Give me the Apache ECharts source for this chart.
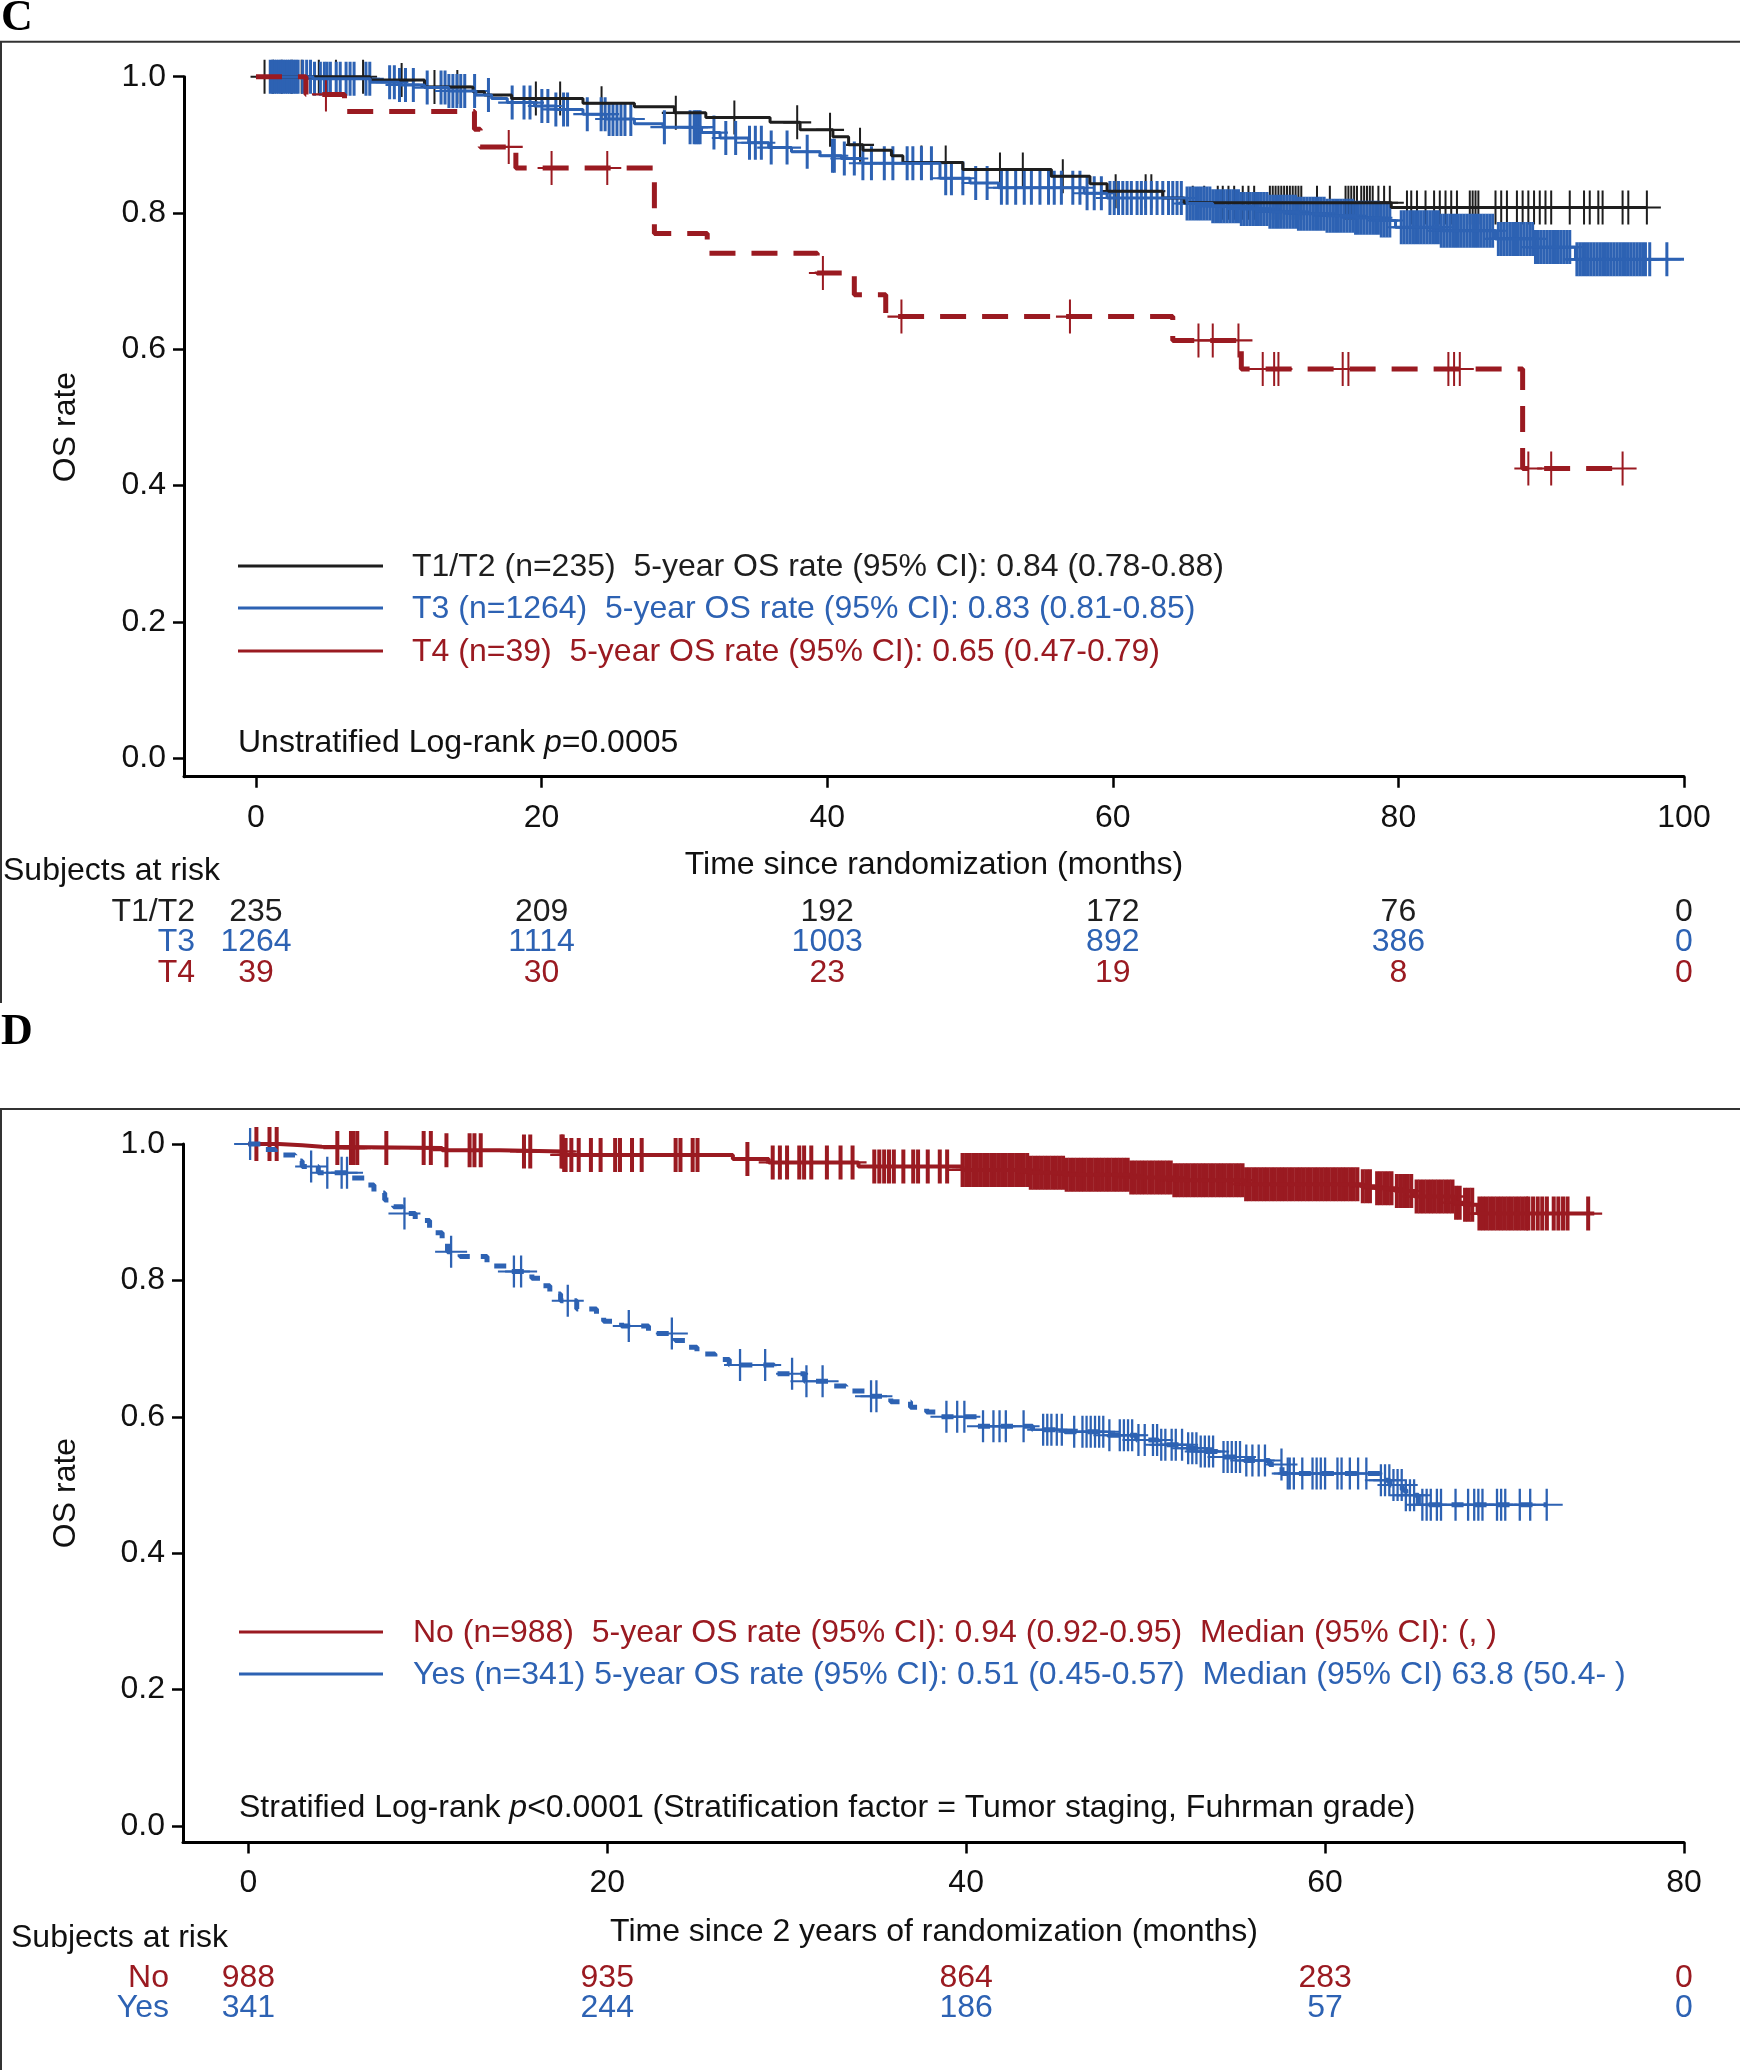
<!DOCTYPE html>
<html><head><meta charset="utf-8">
<script src="https://cdn.jsdelivr.net/npm/echarts@6/dist/echarts.min.js"></script>
<style>html,body{margin:0;padding:0;background:#fff}#c{width:1740px;height:2070px}</style>
</head><body><div id="c"></div>
<script>
// ---------------- Panel C data (months, survival) ----------------
const cBlackT = [0, 8.0, 11.8, 15.2, 16.0, 17.9, 22.9, 26.5, 29.3, 31.5, 36.0, 38.1, 40.4, 41.5, 42.5, 44.5, 45.3, 49.5, 55.7, 58.4, 59.6, 63.5, 65.0, 79.5, 97.4];
const cBlackS = [1.0, 0.995, 0.985, 0.978, 0.973, 0.968, 0.961, 0.956, 0.947, 0.940, 0.933, 0.922, 0.912, 0.900, 0.892, 0.884, 0.874, 0.864, 0.854, 0.843, 0.832, 0.822, 0.815, 0.808, 0.808];
const cBlackCens = [0.6, 1.2, 1.8, 2.5, 3.2, 4.4, 5.6, 7.5, 10.2, 12.5, 14.1, 19.6, 21.3, 24.2, 29.4, 33.5, 37.9, 40.2, 42.3, 46.6, 48.3, 52.1, 53.7, 56.5, 60.2, 62.3, 62.7,
  65.6, 66.4, 67.35, 67.7, 68.1, 68.5, 69.1, 69.5, 69.9, 71.0, 71.2, 71.4, 71.6, 71.8, 72.0, 72.2, 72.4, 72.6, 72.8, 73.0, 73.2, 74.3, 75.2,
  76.3, 76.5, 76.7, 76.9, 77.1, 77.4, 77.6, 77.8, 78.0, 78.2, 78.6, 79.0, 79.4, 80.6, 80.9, 81.3, 81.9, 82.5, 82.9, 83.3, 83.7, 84.1,
  85.0, 85.2, 85.4, 85.6, 86.8, 87.2, 87.6, 88.3, 88.7, 89.1, 89.5, 89.9, 90.3, 90.7, 92.0, 93.0, 93.4, 94.0, 94.3, 95.7, 96.1, 97.4];

const cBlueT = [0, 4.0, 8.0, 10.0, 11.8, 13.5, 15.4, 16.5, 17.6, 19.5, 21.0, 22.9, 24.5, 26.5, 28.5, 31.2, 32.5, 34.5, 35.9, 37.5, 39.5, 41.0, 42.5, 47.9, 50.0, 52.0, 58.0, 59.6, 65.2, 67.0, 69.0, 71.0, 73.0, 75.0, 77.0, 78.8, 79.8, 83.0, 86.8, 89.5, 92.4, 100];
const cBlueS = [1.0, 0.997, 0.992, 0.988, 0.984, 0.979, 0.973, 0.968, 0.962, 0.957, 0.952, 0.945, 0.938, 0.931, 0.926, 0.918, 0.910, 0.903, 0.896, 0.890, 0.884, 0.880, 0.873, 0.851, 0.844, 0.837, 0.829, 0.822, 0.814, 0.810, 0.806, 0.802, 0.799, 0.796, 0.793, 0.789, 0.779, 0.774, 0.762, 0.750, 0.732, 0.732];
const cBlueCens = [1.0, 1.15, 1.3, 1.45, 1.6, 1.75, 1.9, 2.05, 2.2, 2.35, 2.5, 2.65, 2.8, 2.95, 3.27, 3.55, 3.82, 4.1, 4.51, 4.79, 4.98, 5.21, 5.62, 5.9, 6.31, 6.59, 6.87, 7.7, 7.97,
  9.36, 9.69, 10.05, 10.47, 11.02, 11.99, 12.96, 13.24, 13.51, 13.79, 14.07, 14.34, 14.62, 15.31, 16.28, 17.94, 18.77, 19.19, 20.02, 20.44, 21.0, 21.54, 21.82,
  23.2, 24.17, 24.45, 24.73, 25.0, 25.28, 25.56, 25.84, 26.25, 28.6, 30.4, 30.68, 30.82, 30.96, 31.1, 32.07, 32.9, 33.59, 34.56, 34.97, 35.39, 36.08, 37.19, 38.6,
  40.37, 40.5, 41.2, 41.9, 42.5, 43.1, 44.0, 44.6, 45.6, 46.0, 46.6, 47.3, 48.3, 48.7, 49.5, 50.4, 51.2, 52.2, 52.6, 53.2, 53.8, 54.3, 54.9, 55.5, 55.9, 56.4, 57.2, 57.7, 58.2, 58.7, 59.2, 59.8,
  60.1, 60.4, 60.7, 61.0, 61.3, 61.7, 62.0, 62.3, 62.7, 63.1, 63.5, 63.9, 64.2, 64.5, 64.8,
  65.2, 65.4, 65.6, 65.8, 66.0, 66.2, 66.4, 66.6, 66.8, 67.0, 67.2, 67.4, 67.6, 67.8, 68.0, 68.2, 68.4, 68.6, 68.8, 69.0, 69.2, 69.4, 69.6, 69.8,
  70.0, 70.2, 70.4, 70.6, 70.8, 71.0, 71.2, 71.4, 71.6, 71.8, 72.0, 72.2, 72.4, 72.6, 72.8, 73.0, 73.2, 73.4, 73.6, 73.8, 74.0, 74.2, 74.4, 74.6, 74.8,
  75.0, 75.2, 75.4, 75.6, 75.8, 76.0, 76.2, 76.4, 76.6, 76.8, 77.0, 77.2, 77.4, 77.6, 77.8, 78.0, 78.2, 78.4, 78.6, 78.8, 79.0, 79.2, 79.4,
  80.2, 80.4, 80.6, 80.8, 81.0, 81.2, 81.4, 81.6, 81.8, 82.0, 82.2, 82.4, 82.6, 82.8, 83.0, 83.2, 83.4, 83.6, 83.8, 84.0, 84.2, 84.4, 84.6, 84.8,
  85.0, 85.2, 85.4, 85.6, 85.8, 86.0, 86.2, 86.4, 86.6, 87.0, 87.2, 87.4, 87.6, 87.8, 88.0, 88.2, 88.4, 88.6, 88.8, 89.0, 89.2, 89.4, 89.6, 89.8,
  90.0, 90.2, 90.4, 90.6, 90.8, 91.0, 91.2, 91.4, 91.6, 91.8, 92.0, 92.5, 92.7, 92.9, 93.1, 93.3, 93.5, 93.7, 93.9, 94.1, 94.3, 94.5, 94.7, 94.9,
  95.1, 95.3, 95.5, 95.7, 95.9, 96.1, 96.3, 96.5, 96.7, 96.9, 97.1, 97.3, 97.6, 98.8];

const cRedT = [0, 3.5, 6.2, 15.3, 15.7, 18.2, 27.9, 31.6, 39.3, 41.9, 44.1, 64.2, 69.0, 88.7, 95.7];
const cRedS = [1.0, 0.974, 0.949, 0.923, 0.897, 0.866, 0.770, 0.741, 0.712, 0.680, 0.648, 0.613, 0.571, 0.425, 0.425];
const cRedCens = [4.9, 17.7, 20.7, 24.6, 39.7, 45.2, 57.0, 66.0, 67.0, 68.8, 70.5, 71.3, 71.6, 76.1, 76.5, 83.5, 83.9, 84.3, 89.1, 90.7, 95.7];

// ---------------- Panel D data ----------------
const dRedT = [0, 1.7, 3.0, 4.1, 10.8, 14.0, 17.6, 27.0, 29.0, 34.0, 39.8, 43.5, 45.5, 49.2, 51.6, 55.5, 62.0, 62.8, 63.9, 65.0, 67.2, 67.7, 68.5, 75.0];
const dRedS = [1.0, 0.998, 0.996, 0.994, 0.991, 0.989, 0.984, 0.978, 0.973, 0.967, 0.962, 0.958, 0.955, 0.951, 0.947, 0.941, 0.938, 0.935, 0.931, 0.923, 0.914, 0.911, 0.898, 0.898];
const dRedCens = [0.45, 1.18, 1.58, 4.96, 5.72, 5.85, 6.07, 7.69, 9.77, 10.17, 11.04, 12.33, 12.6, 12.95, 15.36, 15.71, 17.45, 17.52, 17.6, 17.68, 18.0, 18.41,
  19.09, 19.63, 20.44, 20.71, 21.38, 21.92, 23.81, 24.08, 24.76, 25.03, 27.81, 29.22, 29.62, 30.02, 30.7, 30.97, 31.37, 32.24, 33.0, 33.67,
  34.88, 35.16, 35.43, 35.7, 35.97, 36.5, 37.05, 37.32, 37.86, 38.53, 38.94,
  39.8, 40.0, 40.2, 40.4, 40.6, 40.8, 41.0, 41.2, 41.4, 41.6, 41.8, 42.0, 42.2, 42.4, 42.6, 42.8, 43.0, 43.2, 43.4, 43.6, 43.8, 44.0, 44.2, 44.4, 44.6, 44.8,
  45.0, 45.2, 45.4, 45.6, 45.8, 46.0, 46.2, 46.4, 46.6, 46.8, 47.0, 47.2, 47.4, 47.6, 47.8, 48.0, 48.2, 48.4, 48.6, 48.8, 49.0, 49.2, 49.4, 49.6, 49.8,
  50.0, 50.2, 50.4, 50.6, 50.8, 51.0, 51.2, 51.4, 51.6, 51.8, 52.0, 52.2, 52.4, 52.6, 52.8, 53.0, 53.2, 53.4, 53.6, 53.8, 54.0, 54.2, 54.4, 54.6, 54.8,
  55.0, 55.2, 55.4, 55.6, 55.8, 56.0, 56.2, 56.4, 56.6, 56.8, 57.0, 57.2, 57.4, 57.6, 57.8, 58.0, 58.2, 58.4, 58.6, 58.8, 59.0, 59.2, 59.4, 59.6, 59.8,
  60.0, 60.2, 60.4, 60.6, 60.8, 61.0, 61.2, 61.4, 61.6, 61.8, 62.1, 62.3, 62.5, 62.9, 63.1, 63.3, 63.5, 63.7, 64.0, 64.2, 64.4, 64.6, 64.8,
  65.1, 65.3, 65.5, 65.7, 65.9, 66.1, 66.3, 66.5, 66.7, 66.9, 67.1, 67.3, 67.5, 67.8, 68.0, 68.2, 68.6, 68.8,
  69.0, 69.2, 69.4, 69.6, 69.8, 70.0, 70.2, 70.4, 70.6, 70.8, 71.0, 71.2, 71.33, 71.59, 71.85, 72.1, 72.36, 72.74, 73.0, 73.26, 73.51, 74.66];

const dBlueT = [0, 0.8, 1.5, 2.6, 3.0, 3.9, 5.7, 6.5, 7.0, 7.6, 8.1, 8.6, 9.3, 10.1, 10.8, 11.1, 11.8, 13.3, 14.4, 15.8, 16.3, 16.8, 17.4, 18.3, 19.4, 19.8, 20.8, 22.3, 23.8, 24.4, 25.0, 26.0, 26.8, 29.3, 31.0, 32.6, 33.3, 34.4, 35.8, 36.9, 37.8, 38.4, 40.6, 43.7, 45.5, 47.9, 49.5, 50.7, 52.1, 53.0, 54.0, 55.5, 56.9, 57.6, 63.1, 63.6, 64.3, 64.5, 65.2, 72.35];
const dBlueS = [1.0, 0.992, 0.984, 0.975, 0.967, 0.958, 0.950, 0.940, 0.928, 0.918, 0.908, 0.898, 0.888, 0.870, 0.855, 0.842, 0.835, 0.821, 0.813, 0.803, 0.792, 0.780, 0.770, 0.758, 0.748, 0.740, 0.733, 0.722, 0.712, 0.702, 0.692, 0.684, 0.676, 0.663, 0.652, 0.645, 0.638, 0.630, 0.622, 0.614, 0.607, 0.600, 0.586, 0.581, 0.578, 0.573, 0.566, 0.559, 0.554, 0.549, 0.541, 0.536, 0.530, 0.517, 0.507, 0.500, 0.493, 0.485, 0.471, 0.471];
const dBlueCens = [0.1, 3.5, 4.4, 5.2, 5.5, 8.7, 11.3, 14.8, 15.2, 17.8, 21.2, 23.6, 27.4, 28.8, 30.3, 31.1, 32.0, 34.7, 35.0, 38.9, 39.5, 39.9,
  40.94, 41.52, 41.86, 42.21, 43.2, 44.29, 44.52, 44.75, 45.05, 45.33, 46.02, 46.48, 46.71, 46.94, 47.18, 47.41, 47.64, 47.98, 48.56, 48.79, 49.02, 49.25,
  49.6, 49.95, 50.41, 50.64, 50.87, 51.1, 51.45, 51.68, 52.03, 52.37, 52.6, 52.83, 53.07, 53.3, 53.53, 53.76, 54.34, 54.57, 54.8, 55.03, 55.26, 55.61,
  55.95, 56.3, 56.65, 57.57, 57.92, 58.03, 58.26, 58.73, 59.3, 59.53, 59.76, 60.0, 60.69, 60.92, 61.38, 61.84, 62.3, 63.11, 63.34, 63.58, 63.81,
  64.04, 64.27, 64.5, 64.73, 64.96, 65.42, 65.66, 65.89, 66.23, 66.46, 67.27, 67.97, 68.31, 68.54, 68.77, 69.58, 69.81, 70.04, 70.85, 71.43, 72.35];

// ---------------- Axis ticks & risk tables ----------------
const cXTicks = [0, 20, 40, 60, 80, 100];
const dXTicks = [0, 20, 40, 60, 80];
const yTicks = [0, 0.2, 0.4, 0.6, 0.8, 1.0];
const cRiskGroups = ['T1/T2', 'T3', 'T4'];
const cRiskT12 = [235, 209, 192, 172, 76, 0];
const cRiskT3 = [1264, 1114, 1003, 892, 386, 0];
const cRiskT4 = [39, 30, 23, 19, 8, 0];
const dRiskGroups = ['No', 'Yes'];
const dRiskNo = [988, 935, 864, 283, 0];
const dRiskYes = [341, 244, 186, 57, 0];

// ---------------- Styles ----------------
const FONT = "'Liberation Sans', Arial, sans-serif";
const BLACK = '#1e1e1e', BLUE = '#2d62b3', RED = '#9a1a21';
const CROSS2 = 'path://M13,0h2v15h13v2h-13v15h-2v-15h-13v-2h13z';
const CROSS3 = 'path://M12.5,0h3v15h12.5v2h-12.5v15h-3v-15h-12.5v-2h12.5z';
const CROSS4 = 'path://M12,0h4v15h12v2h-12v15h-4v-15h-12v-2h12z';

function survAt(T, S, t) { let v = S[0]; for (let i = 0; i < T.length; i++) { if (T[i] <= t) v = S[i]; } return v; }
function lineSeries(ai, T, S, color, width, type) {
  return { type: 'line', xAxisIndex: ai, yAxisIndex: ai, data: T.map((t, i) => [t, S[i]]), step: 'end',
    symbol: 'none', showSymbol: false, clip: false, silent: true, animation: false,
    lineStyle: { color: color, width: width, type: type || 'solid', cap: 'butt' }, emphasis: { disabled: true } };
}
function censorSeries(ai, T, S, C, color, sym, size) {
  return { type: 'scatter', xAxisIndex: ai, yAxisIndex: ai, data: C.map(t => [t, survAt(T, S, t)]),
    symbol: sym, symbolSize: size, clip: false, silent: true, animation: false,
    itemStyle: { color: color, opacity: 1 }, emphasis: { disabled: true } };
}
function xAx(gi, min, max, ticks, margin) {
  return { gridIndex: gi, type: 'value', min: min, max: max,
    axisLine: { show: true, onZero: false, lineStyle: { color: '#000', width: 3 } },
    axisTick: { show: true, customValues: ticks, length: 11, lineStyle: { color: '#000', width: 2.5 } },
    axisLabel: { show: true, customValues: ticks, margin: margin, fontSize: 32, fontFamily: FONT, color: '#111', formatter: v => String(v) },
    splitLine: { show: false } };
}
function yAx(gi, min) {
  return { gridIndex: gi, type: 'value', min: min, max: 1.0,
    axisLine: { show: true, onZero: false, lineStyle: { color: '#000', width: 3 } },
    axisTick: { show: true, customValues: yTicks, length: 11, lineStyle: { color: '#000', width: 2.5 } },
    axisLabel: { show: true, customValues: yTicks, margin: 18, fontSize: 32, fontFamily: FONT, color: '#111', formatter: v => v.toFixed(1) },
    splitLine: { show: false } };
}

const chart = echarts.init(document.getElementById('c'), null, { renderer: 'canvas' });
chart.setOption({
  animation: false,
  backgroundColor: '#fff',
  grid: [
    { left: 184, top: 76.7, width: 1500, height: 700 },
    { left: 183, top: 1144, width: 1501, height: 698.5 }
  ],
  xAxis: [ xAx(0, -5.04, 100, cXTicks, 25), xAx(1, -3.64, 80, dXTicks, 25) ],
  yAxis: [ yAx(0, -0.0272), yAx(1, -0.0242) ],
  series: [
    lineSeries(0, cBlackT, cBlackS, BLACK, 3),
    censorSeries(0, cBlackT, cBlackS, cBlackCens, BLACK, CROSS2, [28, 34]),
    lineSeries(0, cBlueT, cBlueS, BLUE, 3),
    censorSeries(0, cBlueT, cBlueS, cBlueCens, BLUE, CROSS3, [28, 34]),
    lineSeries(0, cRedT, cRedS, RED, 5, [26, 16]),
    censorSeries(0, cRedT, cRedS, cRedCens, RED, CROSS2, [28, 34]),
    lineSeries(1, dRedT, dRedS, RED, 4),
    censorSeries(1, dRedT, dRedS, dRedCens, RED, CROSS4, [28, 34]),
    lineSeries(1, dBlueT, dBlueS, BLUE, 5, [12, 11]),
    censorSeries(1, dBlueT, dBlueS, dBlueCens, BLUE, CROSS2, [32, 32])
  ]
});

function txt(x, y, text, color, align, extra) {
  return { type: 'text', x: x, y: y, silent: true, z: 10,
    style: Object.assign({ text: text, fill: color, font: '32px ' + FONT, fontSize: 32, fontFamily: FONT,
      align: align || 'left', verticalAlign: 'middle', textAlign: align || 'left', textVerticalAlign: 'middle' }, extra || {}) };
}
function hline(x1, y1, x2, y2, color, w) {
  return { type: 'line', silent: true, z: 10, shape: { x1: x1, y1: y1, x2: x2, y2: y2 }, style: { stroke: color, lineWidth: w } };
}

const g = [];
// frames and panel letters
g.push(hline(0, 41.7, 1740, 41.7, '#333', 2));
g.push(hline(1, 41.7, 1, 1003, '#333', 2));
g.push(hline(0, 1109, 1740, 1109, '#333', 2));
g.push(hline(1, 1109, 1, 2070, '#333', 2));
g.push(txt(1, 19, 'C', '#000', 'left', { font: 'bold 44px "Liberation Serif", "Times New Roman", serif', fontSize: 44, fontWeight: 'bold', fontFamily: '"Liberation Serif", serif' }));
g.push(txt(1, 1033, 'D', '#000', 'left', { font: 'bold 44px "Liberation Serif", "Times New Roman", serif', fontSize: 44, fontWeight: 'bold', fontFamily: '"Liberation Serif", serif' }));

// y axis names
const osC = txt(0, 0, 'OS rate', '#111', 'center'); osC.x = 66; osC.y = 427; osC.rotation = Math.PI / 2; g.push(osC);
const osD = txt(0, 0, 'OS rate', '#111', 'center'); osD.x = 66; osD.y = 1493; osD.rotation = Math.PI / 2; g.push(osD);

// x axis names (centered on axis lines)
g.push(txt(934, 865, 'Time since randomization (months)', '#111', 'center'));
g.push(txt(934, 1932, 'Time since 2 years of randomization (months)', '#111', 'center'));

// legend C
const legC = [
  ['T1/T2 (n=235)  5-year OS rate (95% CI): 0.84 (0.78-0.88)', BLACK, 566],
  ['T3 (n=1264)  5-year OS rate (95% CI): 0.83 (0.81-0.85)', BLUE, 608],
  ['T4 (n=39)  5-year OS rate (95% CI): 0.65 (0.47-0.79)', RED, 651]
];
legC.forEach(r => { g.push(hline(238, r[2], 383, r[2], r[1], 3)); g.push(txt(412, r[2] + 1, r[0], r[1], 'left')); });
g.push(txt(238, 743, 'Unstratified Log-rank {i|p}=0.0005', '#111', 'left', { rich: { i: { fontStyle: 'italic', fontSize: 32, fontFamily: FONT, fill: '#111' } } }));

// legend D
const legD = [
  ['No (n=988)  5-year OS rate (95% CI): 0.94 (0.92-0.95)  Median (95% CI): (, )', RED, 1632],
  ['Yes (n=341) 5-year OS rate (95% CI): 0.51 (0.45-0.57)  Median (95% CI) 63.8 (50.4- )', BLUE, 1674]
];
legD.forEach(r => { g.push(hline(239, r[2], 383, r[2], r[1], 3)); g.push(txt(413, r[2] + 1, r[0], r[1], 'left')); });
g.push(txt(239, 1808, 'Stratified Log-rank {i|p}<0.0001 (Stratification factor = Tumor staging, Fuhrman grade)', '#111', 'left', { rich: { i: { fontStyle: 'italic', fontSize: 32, fontFamily: FONT, fill: '#111' } } }));

// risk table C
g.push(txt(3, 871, 'Subjects at risk', '#111', 'left'));
const cRows = [[cRiskT12, BLACK, 912], [cRiskT3, BLUE, 942], [cRiskT4, RED, 973.5]];
cRows.forEach((r, k) => {
  g.push(txt(195, r[2], cRiskGroups[k], r[1], 'right'));
  r[0].forEach((n, i) => {
    const px = chart.convertToPixel({ xAxisIndex: 0 }, cXTicks[i]);
    g.push(txt(px, r[2], String(n), r[1], 'center'));
  });
});
// risk table D
g.push(txt(11, 1938, 'Subjects at risk', '#111', 'left'));
const dRows = [[dRiskNo, RED, 1978], [dRiskYes, BLUE, 2008]];
dRows.forEach((r, k) => {
  g.push(txt(169, r[2], dRiskGroups[k], r[1], 'right'));
  r[0].forEach((n, i) => {
    const px = chart.convertToPixel({ xAxisIndex: 1 }, dXTicks[i]);
    g.push(txt(px, r[2], String(n), r[1], 'center'));
  });
});

chart.setOption({ graphic: { elements: g } });
</script></body></html>
